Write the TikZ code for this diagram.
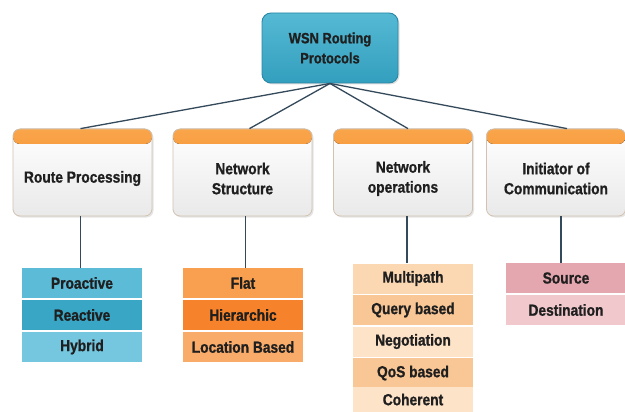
\documentclass[tikz,border=0pt]{standalone}
\usepackage{fontspec}
\newfontfamily\diagfont[FakeStretch=0.86,FakeBold=1]{Liberation Sans}
\usetikzlibrary{shadows}
\definecolor{linegray}{HTML}{34495A}
\definecolor{roottop}{HTML}{55B9D4}
\definecolor{rootbot}{HTML}{339FBE}
\definecolor{rootedge}{HTML}{2A88A6}
\definecolor{catedge}{HTML}{D2C2B0}
\definecolor{catbot}{HTML}{E9E9E9}
\definecolor{headtop}{HTML}{F9A54A}
\definecolor{headbot}{HTML}{F4801F}
\definecolor{bluea}{HTML}{5CBBD6}
\definecolor{blueb}{HTML}{3AA6C6}
\definecolor{bluec}{HTML}{74C7DF}
\definecolor{orangea}{HTML}{F8A050}
\definecolor{orangeb}{HTML}{F6832B}
\definecolor{orangec}{HTML}{F9AB6A}
\definecolor{peacha}{HTML}{FCD8B2}
\definecolor{peachb}{HTML}{F9C795}
\definecolor{peachc}{HTML}{FDE3C8}
\definecolor{pinka}{HTML}{E4A7AF}
\definecolor{pinkb}{HTML}{F1C9CD}

\begin{document}
\begin{tikzpicture}[x=1pt,y=-1pt,
		every node/.style={font=\diagfont\bfseries\fontsize{16}{20}\selectfont,text=black!88,align=center},
		link/.style={draw=linegray,line width=1.3pt},
		rootbox/.style={rectangle,rounded corners=9pt,draw=rootedge,line width=0.9pt,
			top color=roottop,bottom color=rootbot,minimum width=136pt,minimum height=70pt,
			font=\diagfont\bfseries\fontsize{15}{20}\selectfont,
			drop shadow={opacity=0.25,shadow xshift=1.5pt,shadow yshift=-1.5pt}},
		catbox/.style={rectangle,rounded corners=7pt,draw=catedge,line width=0.8pt,
			top color=white,bottom color=catbot,minimum width=139pt,minimum height=87pt,
			drop shadow={opacity=0.2,shadow xshift=1.5pt,shadow yshift=-1.5pt},
			path picture={\fill[top color=headtop,bottom color=headbot]
				(path picture bounding box.north west) rectangle
				([yshift=-15pt]path picture bounding box.north east);}},
		catlabel/.style={yshift=-6pt},
		item/.style={rectangle,minimum width=120pt,minimum height=30pt,inner sep=0pt}]
		
		\path[use as bounding box,fill=white] (0,0) rectangle (625,412);
		
		\node[rootbox] (wsn) at (330,48) {WSN Routing\\Protocols};
		
		\node[catbox,label={[catlabel]center:Route Processing}] (rp) at (82.5,172.5) {};
		\node[catbox,label={[catlabel]center:{Network\\Structure}}] (ns) at (242.5,172.5) {};
		\node[catbox,label={[catlabel]center:{Network\\operations}}] (no) at (403,172.5) {};
		\node[catbox,label={[catlabel]center:{Initiator of\\Communication}}] (ic) at (556,172.5) {};
		
		\draw[link] (wsn.south) -- ([xshift=-2pt]rp.north);
		\draw[link] (wsn.south) -- ([xshift=7pt]ns.north);
		\draw[link] (wsn.south) -- ([xshift=5pt]no.north);
		\draw[link] (wsn.south) -- ([xshift=11pt]ic.north);
		
		\node[item,fill=bluea] (pro) at (82,283) {Proactive};
		\node[item,fill=blueb] (rea) at (82,315) {Reactive};
		\node[item,fill=bluec] (hyb) at (82,347) {Hybrid};
		
		\node[item,fill=orangea] (flat) at (243,283) {Flat};
		\node[item,fill=orangeb] (hier) at (243,315) {Hierarchic};
		\node[item,fill=orangec] (loc) at (243,347) {Location Based};
		
		\node[item,fill=peacha] (multi) at (413,278.5) {Multipath};
		\node[item,fill=peachb] (query) at (413,310) {Query based};
		\node[item,fill=peachc] (nego) at (413,341.5) {Negotiation};
		\node[item,fill=peachb] (qos) at (413,373) {QoS based};
		\node[item,fill=peachc,minimum height=25pt] (coh) at (413,399.5) {Coherent};
		
		\node[item,fill=pinka] (src) at (566,278) {Source};
		\node[item,fill=pinkb] (dst) at (566,310) {Destination};
		
		\draw[link] ([xshift=-2pt]rp.south) -- ([xshift=-2pt]rp.south |- pro.north);
		\draw[link] ([xshift=3pt]ns.south) -- ([xshift=3pt]ns.south |- flat.north);
		\draw[link] ([xshift=4pt]no.south) -- ([xshift=4pt]no.south |- multi.north);
		\draw[link] ([xshift=5pt]ic.south) -- ([xshift=5pt]ic.south |- src.north);
		\end{tikzpicture}
\end{document}
